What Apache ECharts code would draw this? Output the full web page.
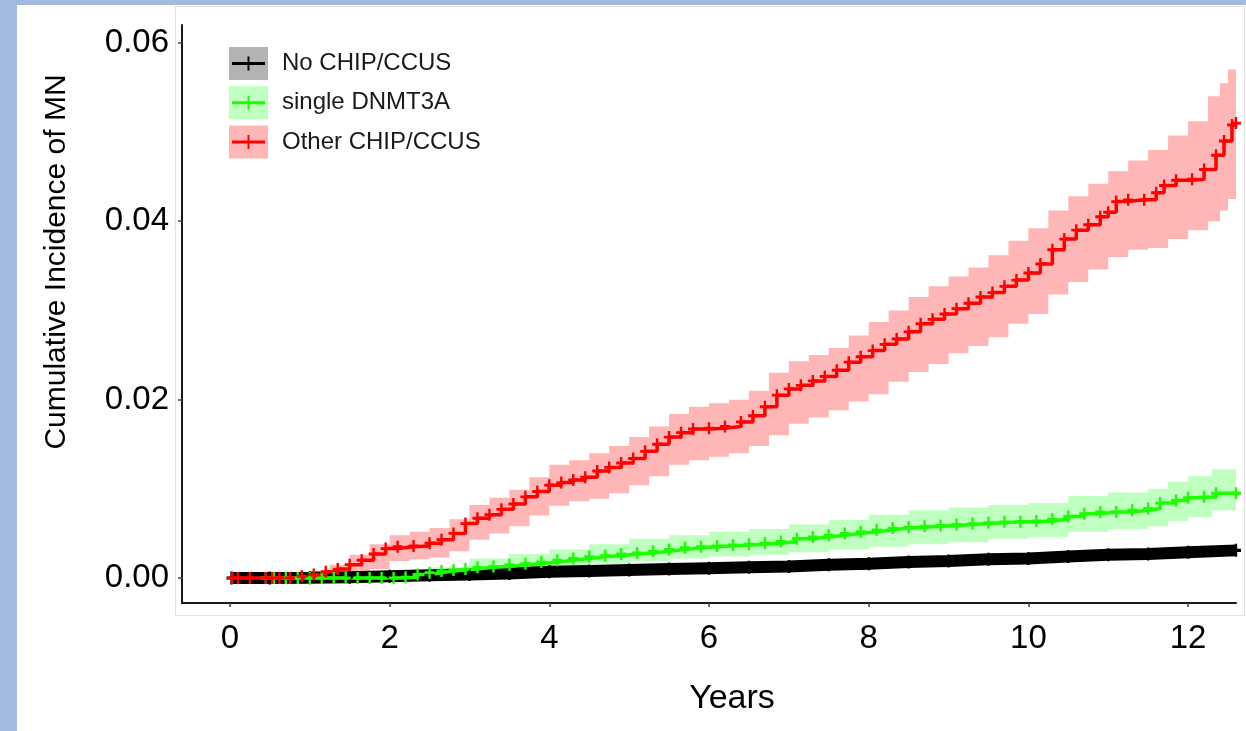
<!DOCTYPE html>
<html><head><meta charset="utf-8">
<script src="https://cdn.jsdelivr.net/npm/echarts@6/dist/echarts.min.js"></script>
<style>
html,body{margin:0;padding:0;width:1246px;height:731px;overflow:hidden;background:#a3b9e0;}
#paper{position:absolute;left:17px;top:5px;width:1229px;height:726px;background:#fff;}
#panel{position:absolute;left:175px;top:6px;width:1070px;height:610px;border:1px solid #e2e2e2;box-sizing:border-box;}
#chart{position:absolute;left:0;top:0;width:1246px;height:731px;}
</style></head><body>
<div id="paper"></div><div id="panel"></div><div id="chart"></div>
<script>
const xTicks = [0, 2, 4, 6, 8, 10, 12];
const yTicks = [0, 0.02, 0.04, 0.06];
const groupNames = ['No CHIP/CCUS', 'single DNMT3A', 'Other CHIP/CCUS'];

const blackT = [0.02,0.5,1.0,1.5,2.0,2.5,3.0,3.5,4.0,4.5,5.0,5.5,6.0,6.5,7.0,7.5,8.0,8.5,9.0,9.5,10.0,10.5,11.0,11.5,12.0,12.6];
const blackV = [0,0,0.00003,0.0001,0.0002,0.0003,0.0004,0.0005,0.0007,0.0008,0.0009,0.0010,0.0011,0.0012,0.0013,0.0015,0.0016,0.0018,0.0019,0.0021,0.0022,0.0024,0.0026,0.0027,0.0029,0.0031];

const greenT = [0.45,0.55,0.7,0.85,1.0,1.15,1.3,1.45,1.6,1.75,1.9,2.05,2.2,2.35,2.5,2.65,2.8,2.95,3.1,3.3,3.5,3.7,3.9,4.1,4.3,4.5,4.7,4.9,5.1,5.3,5.5,5.7,5.9,6.1,6.3,6.5,6.7,6.9,7.1,7.3,7.5,7.7,7.9,8.1,8.3,8.5,8.7,8.9,9.1,9.3,9.5,9.7,9.9,10.1,10.3,10.5,10.7,10.9,11.1,11.3,11.5,11.65,11.85,12.0,12.2,12.35,12.6];
const greenV = [0,0,0,0,0,0,0,0,0,0,0,0,0.0001,0.0004,0.0006,0.0008,0.0009,0.0010,0.0012,0.0013,0.0015,0.0016,0.0018,0.0020,0.0022,0.0024,0.0025,0.0027,0.0028,0.0030,0.0032,0.0034,0.0035,0.0036,0.0037,0.0038,0.0039,0.0041,0.0044,0.0046,0.0048,0.0050,0.0052,0.0054,0.0056,0.0057,0.0058,0.0059,0.0060,0.0061,0.0062,0.0063,0.0063,0.0064,0.0066,0.0069,0.0072,0.0074,0.0074,0.0076,0.0078,0.0084,0.0087,0.0090,0.0091,0.0095,0.0095];
const greenBandT = [0.45,2.2,2.5,3.0,3.5,4.0,4.5,5.0,5.5,6.0,6.5,7.0,7.5,8.0,8.5,9.0,9.5,10.0,10.5,11.0,11.5,11.75,12.0,12.3,12.6];
const greenUpper = [0,0.0003,0.0012,0.0022,0.0027,0.0032,0.0038,0.0044,0.0048,0.0052,0.0055,0.0060,0.0065,0.0071,0.0076,0.0079,0.0082,0.0084,0.0092,0.0096,0.0100,0.0108,0.0114,0.0122,0.0122];
const greenLower = [0,0,0.0002,0.0005,0.0009,0.0012,0.0016,0.0019,0.0022,0.0024,0.0026,0.0029,0.0032,0.0035,0.0038,0.0040,0.0044,0.0046,0.0052,0.0055,0.0058,0.0064,0.0068,0.0076,0.0078];

const redT = [0.03,0.1,0.25,0.45,0.53,0.62,0.75,0.9,1.05,1.2,1.35,1.5,1.65,1.8,1.95,2.1,2.3,2.5,2.65,2.8,2.95,3.1,3.25,3.4,3.55,3.7,3.85,4.0,4.15,4.3,4.45,4.6,4.75,4.9,5.05,5.2,5.35,5.5,5.65,5.8,6.0,6.2,6.4,6.55,6.7,6.85,7.0,7.15,7.3,7.45,7.6,7.75,7.9,8.05,8.2,8.35,8.5,8.65,8.8,8.95,9.1,9.25,9.4,9.55,9.7,9.85,10.0,10.15,10.3,10.45,10.6,10.75,10.9,11.0,11.1,11.25,11.45,11.6,11.7,11.85,12.05,12.2,12.35,12.45,12.55,12.6];
const redV = [0,0,0,0,0,0,0,0.0002,0.0004,0.0007,0.0010,0.0015,0.0020,0.0027,0.0033,0.0035,0.0036,0.0039,0.0043,0.0050,0.0061,0.0067,0.0071,0.0077,0.0083,0.0091,0.0097,0.0104,0.0107,0.0110,0.0113,0.0120,0.0124,0.0129,0.0134,0.0142,0.0150,0.0158,0.0163,0.0167,0.0168,0.0170,0.0175,0.0182,0.0192,0.0205,0.0212,0.0216,0.0221,0.0226,0.0233,0.0242,0.0248,0.0255,0.0262,0.0268,0.0276,0.0285,0.0290,0.0296,0.0302,0.0308,0.0315,0.0320,0.0327,0.0334,0.0342,0.0352,0.0368,0.0380,0.0390,0.0396,0.0405,0.0410,0.0422,0.0424,0.0424,0.0432,0.0440,0.0446,0.0447,0.0458,0.0474,0.0490,0.0508,0.0510];
const redBandT = [0.03,0.8,1.0,1.25,1.5,1.75,2.0,2.25,2.5,2.75,3.0,3.25,3.5,3.75,4.0,4.25,4.5,4.75,5.0,5.25,5.5,5.75,6.0,6.25,6.5,6.75,7.0,7.25,7.5,7.75,8.0,8.25,8.5,8.75,9.0,9.25,9.5,9.75,10.0,10.25,10.5,10.75,11.0,11.25,11.5,11.75,12.0,12.25,12.4,12.5,12.6];
const redUpper = [0,0.0004,0.0008,0.0015,0.0026,0.0038,0.0048,0.0052,0.0056,0.0066,0.0082,0.0090,0.0099,0.0113,0.0127,0.0132,0.0140,0.0148,0.0158,0.0170,0.0184,0.0192,0.0196,0.0200,0.0210,0.0230,0.0243,0.0250,0.0258,0.0272,0.0287,0.0300,0.0315,0.0327,0.0338,0.0348,0.0362,0.0378,0.0392,0.0412,0.0428,0.0442,0.0456,0.0468,0.0480,0.0496,0.0512,0.0540,0.0555,0.0570,0.0580];
const redLower = [0,0,0,0.0001,0.0004,0.0010,0.0019,0.0021,0.0023,0.0030,0.0043,0.0050,0.0058,0.0070,0.0081,0.0086,0.0089,0.0095,0.0104,0.0114,0.0127,0.0132,0.0136,0.0140,0.0148,0.0160,0.0173,0.0180,0.0188,0.0198,0.0206,0.0220,0.0231,0.0240,0.0252,0.0260,0.0270,0.0285,0.0296,0.0318,0.0332,0.0346,0.0360,0.0368,0.0370,0.0380,0.0390,0.0400,0.0412,0.0425,0.0440];

const FONT = "'Liberation Sans', Arial, sans-serif";
const lineColors = ['#000000', '#1cff00', '#ff0000'];
const bandColors = ['#b3b3b3', '#bfffbf', '#ffb6b6'];
const plusPath = 'path://M3.8,0h2.4v3.8h3.8v2.4h-3.8v3.8h-2.4v-3.8h-3.8v-2.4h3.8z';
const legendPlus = 'path://M0,5.5H15.5V0H17.5V5.5H33V8.5H17.5V14H15.5V8.5H0Z';

function pts(T, V) {
  const n = Math.min(T.length, V.length), out = [];
  for (let i = 0; i < n; i++) out.push([T[i], V[i]]);
  return out;
}
function bandSeries(id, T, U, L, color) {
  const n = Math.min(T.length, U.length, L.length);
  const data = [];
  for (let i = 0; i < n; i++) data.push([T[i], U[i], L[i]]);
  return {
    type: 'custom', id: id, name: id, data: data, silent: true, z: 1,
    encode: { x: 0, y: [1, 2] },
    renderItem: function (params, api) {
      if (params.dataIndex !== 0) return null;
      const up = [], lo = [];
      for (let i = 0; i < data.length; i++) {
        const t = data[i][0];
        const tn = i < data.length - 1 ? data[i + 1][0] : data[i][0];
        up.push(api.coord([t, data[i][1]]), api.coord([tn, data[i][1]]));
        lo.push(api.coord([t, data[i][2]]), api.coord([tn, data[i][2]]));
      }
      return { type: 'polygon', shape: { points: up.concat(lo.reverse()) }, style: { fill: color } };
    }
  };
}
function lineSeries(name, T, V, color, width, step, symSize) {
  return {
    type: 'line', name: name, data: pts(T, V), step: step, z: 3,
    showSymbol: true, symbol: plusPath, symbolSize: symSize,
    itemStyle: { color: color }, lineStyle: { color: color, width: width, cap: 'butt' },
    emphasis: { disabled: true }
  };
}

const chart = echarts.init(document.getElementById('chart'), null, { renderer: 'canvas' });
chart.setOption({
  animation: false,
  backgroundColor: 'transparent',
  grid: { left: 182, top: 25, right: 10, bottom: 128, containLabel: false },
  xAxis: {
    type: 'value', min: -0.6, max: 12.6,
    splitLine: { show: false },
    axisLine: { show: true, onZero: false, lineStyle: { color: '#1a1a1a', width: 2 } },
    axisTick: { show: true, length: 4, customValues: xTicks, lineStyle: { color: '#444', width: 1.5 } },
    axisLabel: { customValues: xTicks, fontFamily: FONT, fontSize: 33, color: '#000', margin: 19 },
    name: 'Years', nameLocation: 'middle', nameGap: 79,
    nameTextStyle: { fontFamily: FONT, fontSize: 34, color: '#000', padding: [0, 0, 0, 46] }
  },
  yAxis: {
    type: 'value', min: -0.0028, max: 0.062,
    splitLine: { show: false },
    axisLine: { show: true, onZero: false, lineStyle: { color: '#1a1a1a', width: 2 } },
    axisTick: { show: true, length: 4, customValues: yTicks, lineStyle: { color: '#444', width: 1.5 } },
    axisLabel: { customValues: yTicks, formatter: function (v) { return v.toFixed(2); }, fontFamily: FONT, fontSize: 33, color: '#000', margin: 13 },
    name: 'Cumulative Incidence of MN', nameLocation: 'middle', nameRotate: 90, nameGap: 110,
    nameTextStyle: { fontFamily: FONT, fontSize: 30, color: '#000', padding: [0, 0, 0, 104] }
  },
  legend: [
    {
      orient: 'vertical', left: 229, top: 47, padding: 0, itemWidth: 39, itemHeight: 33, itemGap: 6.3,
      selectedMode: false,
      data: groupNames.map(function (n, i) { return { name: n, icon: 'rect', itemStyle: { color: bandColors[i], borderWidth: 0 } }; }),
      textStyle: { fontFamily: FONT, fontSize: 24, color: '#1a1a1a', padding: [0, 0, 0, 9] }
    },
    {
      orient: 'vertical', left: 232, top: 56.5, padding: 0, itemWidth: 33, itemHeight: 14, itemGap: 25.3,
      selectedMode: false,
      data: groupNames.map(function (n, i) { return { name: n, icon: legendPlus, itemStyle: { color: lineColors[i], borderWidth: 0 } }; }),
      formatter: function () { return ''; },
      textStyle: { fontSize: 1 }
    }
  ],
  series: [
    bandSeries('greenBand', greenBandT, greenUpper, greenLower, bandColors[1]),
    bandSeries('redBand', redBandT, redUpper, redLower, bandColors[2]),
    lineSeries(groupNames[0], blackT, blackV, lineColors[0], 12, false, [10, 13]),
    lineSeries(groupNames[1], greenT, greenV, lineColors[1], 3.5, 'end', [10, 12]),
    lineSeries(groupNames[2], redT, redV, lineColors[2], 3.5, 'end', [10, 12])
  ]
});
</script>
</body></html>
